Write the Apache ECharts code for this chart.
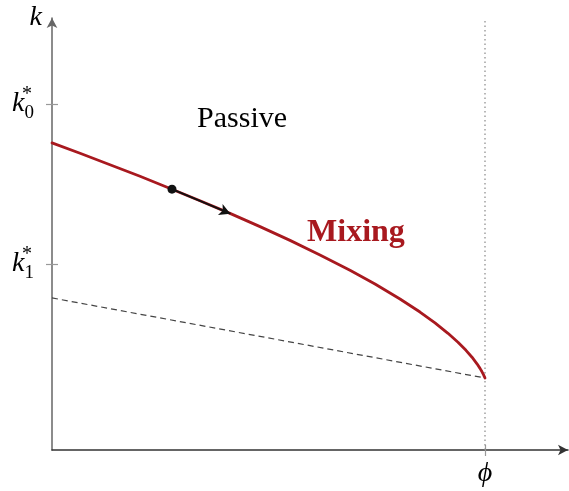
<!DOCTYPE html>
<html>
<head>
<meta charset="utf-8">
<script src="https://cdn.jsdelivr.net/npm/echarts@6/dist/echarts.min.js"></script>
<style>
  html, body { margin: 0; padding: 0; background: #fff; }
  #chart { width: 569px; height: 491px; }
</style>
</head>
<body>
<div id="chart"></div>
<script>
// Mixing boundary k(x) in the (x, k) plane, phi normalised to 1
const curveX = [0, 0.0647, 0.1339, 0.2032, 0.2771, 0.3418, 0.4111, 0.4804, 0.5497, 0.6189,
                0.6882, 0.7460, 0.8037, 0.8499, 0.8845, 0.9145, 0.9376, 0.9561, 0.9700, 0.9815,
                0.9885, 0.9931, 0.9965, 0.9988, 1.0];
const curveY = [0.7109, 0.6868, 0.6604, 0.6336, 0.6037, 0.5771, 0.5477, 0.5171, 0.4852, 0.4516,
                0.4160, 0.3843, 0.3495, 0.3194, 0.2942, 0.2701, 0.2495, 0.2308, 0.2148, 0.1995,
                0.1889, 0.1810, 0.1743, 0.1693, 0.1667];

// Dashed lower line
const lowerX = [0, 1];
const lowerY = [0.352, 0.1667];

// Flow arrow along the boundary (start dot, arrow head)
const flowStart = [0.2771, 0.6037];
const flowEnd = [0.412, 0.547];

// Axis ticks
const phiValue = 1;
const xTickValues = [phiValue];
const xTickLabels = ['ϕ'];
const yTickValues = [0.801, 0.431];
const yTickSubscripts = ['0', '1'];

// Region labels
const regionNames = ['Passive', 'Mixing'];
const regionPos = [[0.439, 0.766], [0.702, 0.502]];

const xMax = 1.1917;
const yMax = 1.0;
const serif = '"Liberation Serif", "DejaVu Serif", serif';
const red = '#A8191F';

const chart = echarts.init(document.getElementById('chart'), null, { renderer: 'canvas' });

const zip = (xs, ys) => xs.map((x, i) => [x, ys[i]]);

const option = {
  animation: false,
  backgroundColor: '#fff',
  grid: { left: 52, top: 18, width: 516, height: 432, containLabel: false },
  xAxis: [
    {
      type: 'value', min: 0, max: xMax,
      splitLine: { show: false },
      axisLine: { show: true, onZero: false, symbol: ['none', 'arrow'], symbolSize: [8, 10], lineStyle: { color: '#333', width: 1.5 } },
      axisTick: { show: true, customValues: xTickValues, length: 6, lineStyle: { color: '#999', width: 1.2 } },
      axisLabel: {
        show: true, customValues: xTickValues, margin: 10,
        formatter: (v) => xTickLabels[xTickValues.indexOf(v)] || '',
        fontFamily: serif, fontStyle: 'italic', fontSize: 28, color: '#000'
      }
    },
    {
      type: 'value', min: 0, max: xMax, position: 'bottom',
      splitLine: { show: false },
      axisLine: { show: false },
      axisTick: { show: true, inside: true, customValues: xTickValues, length: 5, lineStyle: { color: '#999', width: 1.2 } },
      axisLabel: { show: false }
    }
  ],
  yAxis: [
    {
      type: 'value', min: 0, max: yMax,
      name: 'k', nameLocation: 'end', nameGap: -14,
      nameTextStyle: { fontFamily: serif, fontStyle: 'italic', fontSize: 28, color: '#000', align: 'right', verticalAlign: 'bottom', padding: [0, 10, 0, 0] },
      splitLine: { show: false },
      axisLine: { show: true, onZero: false, symbol: ['none', 'arrow'], symbolSize: [8, 10], lineStyle: { color: '#666', width: 1.5 } },
      axisTick: { show: true, customValues: yTickValues, length: 6, lineStyle: { color: '#999', width: 1.2 } },
      axisLabel: {
        show: true, customValues: yTickValues, margin: 18,
        formatter: (v) => '{k|k}{sub|' + (yTickSubscripts[yTickValues.indexOf(v)] || '') + '}',
        rich: {
          k: { fontFamily: serif, fontStyle: 'italic', fontSize: 28, color: '#000' },
          sub: { fontFamily: serif, fontSize: 19, color: '#000', padding: [18, 0, 0, 0] }
        }
      }
    },
    {
      type: 'value', min: 0, max: yMax, position: 'left',
      splitLine: { show: false },
      axisLine: { show: false },
      axisTick: { show: true, inside: true, customValues: yTickValues, length: 6, lineStyle: { color: '#999', width: 1.2 } },
      axisLabel: {
        show: true, customValues: yTickValues, margin: 20,
        formatter: () => '{s|*}',
        rich: { s: { fontFamily: serif, fontSize: 20, color: '#000', padding: [0, 0, 18, 0] } }
      }
    }
  ],
  series: [
    {
      // vertical dotted line at phi
      type: 'line', xAxisIndex: 0, yAxisIndex: 0,
      data: [[phiValue, 0], [phiValue, yMax]],
      symbol: 'none', silent: true,
      lineStyle: { color: '#888', width: 1.2, type: [1.5, 3] },
      z: 1
    },
    {
      type: 'line', xAxisIndex: 0, yAxisIndex: 0,
      data: zip(lowerX, lowerY),
      symbol: 'none', silent: true,
      lineStyle: { color: '#444', width: 1.2, type: [6, 4] },
      z: 2
    },
    {
      type: 'line', xAxisIndex: 0, yAxisIndex: 0,
      data: zip(curveX, curveY),
      symbol: 'none', smooth: false, silent: true,
      lineStyle: { color: red, width: 2.8, join: 'round', cap: 'round' },
      z: 3,
      markLine: {
        silent: true, animation: false,
        symbol: ['circle', 'arrow'], symbolSize: [9, 11],
        label: { show: false },
        lineStyle: { color: '#111', width: 1.8, type: 'solid' },
        data: [[{ coord: flowStart }, { coord: flowEnd }]],
        z: 5
      }
    },
    {
      // region labels
      type: 'scatter', xAxisIndex: 0, yAxisIndex: 0,
      data: regionPos.map((p, i) => ({
        value: p,
        label: {
          show: true, position: 'inside', formatter: regionNames[i],
          fontFamily: serif, fontSize: i === 0 ? 30 : 32,
          fontWeight: i === 0 ? 'normal' : 'bold',
          color: i === 0 ? '#000' : red,
          textBorderWidth: 0, opacity: 1
        }
      })),
      symbolSize: 1, itemStyle: { color: '#fff', opacity: 1 }, silent: true, z: 6
    }
  ]
};

chart.setOption(option);
</script>
</body>
</html>
